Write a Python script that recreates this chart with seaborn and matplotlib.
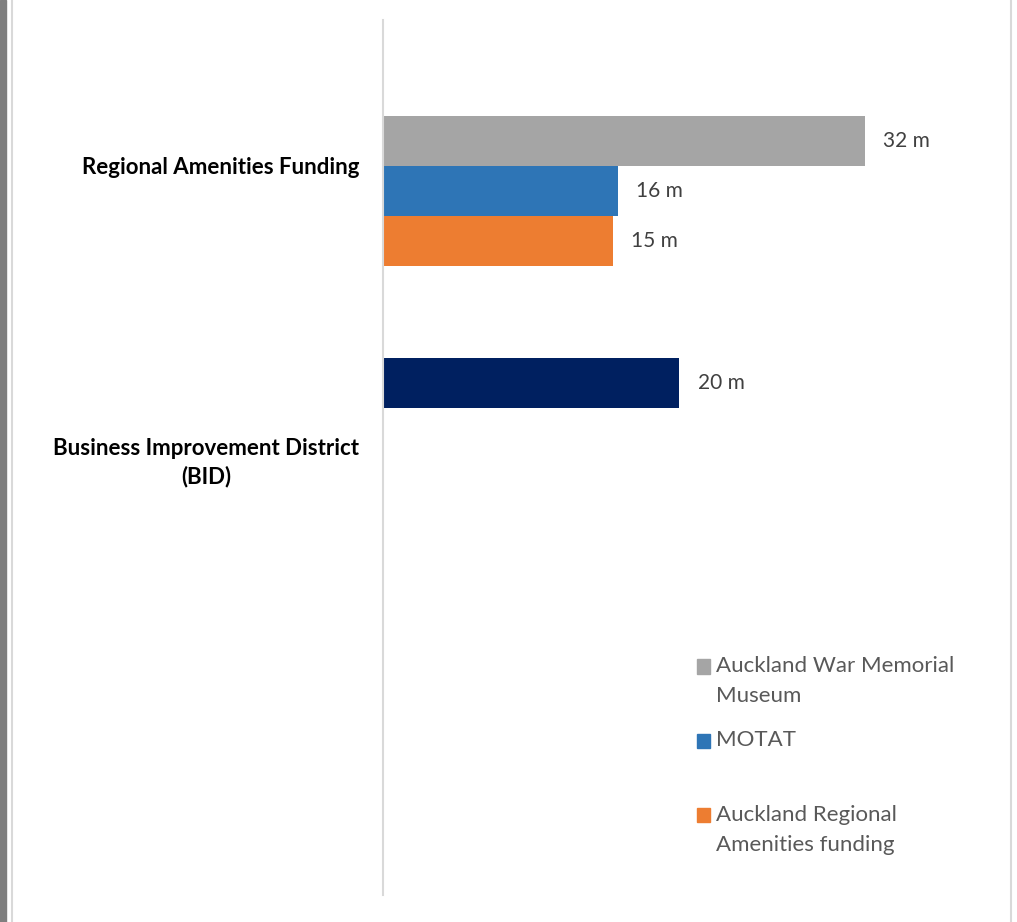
import pandas as pd
import matplotlib.pyplot as plt
import matplotlib.patches as mpatches
from matplotlib.legend_handler import HandlerPatch
import seaborn as sns

# data (millions)
categories = ["Regional Amenities Funding", "Business Improvement District\n(BID)"]
series = ["Business Improvement District", "Auckland War Memorial\nMuseum", "MOTAT",
          "Auckland Regional\nAmenities funding"]
cat_col = [categories[0], categories[0], categories[0], categories[1]]
series_col = [series[1], series[2], series[3], series[0]]
values = [32.0, 15.6, 15.3, 19.7]
colors = ["#002060", "#A5A5A5", "#2E75B6", "#ED7D31"]

df = pd.DataFrame({"category": cat_col, "series": series_col, "value": values})

sns.set_theme(style="white")
plt.rcParams['font.family'] = ['Lato', 'DejaVu Sans']

fig = plt.figure(figsize=(10.17, 9.22), dpi=100)
ax = fig.add_axes([383 / 1017, 1 - 895 / 922, 602 / 1017, 875 / 922])

sns.barplot(data=df, y="category", x="value", hue="series", hue_order=series,
            order=categories, palette=colors, orient="h", width=0.685,
            saturation=1, linewidth=0, ax=ax, legend=False)

for cont in ax.containers:
    ax.bar_label(cont, labels=[f"{v:.0f} m" for v in cont.datavalues],
                 padding=13, fontsize=15, color="#404040")

ax.set_xlim(0, 40)
ax.set_ylim(2.5, -0.5)
ax.set_xlabel("")
ax.set_ylabel("")
ax.set_xticks([])
for s in ["top", "right", "bottom"]:
    ax.spines[s].set_visible(False)
ax.spines["left"].set_color("#D9D9D9")
ax.spines["left"].set_linewidth(1.5)
ax.tick_params(axis="y", length=0, pad=17)
for lab in ax.get_yticklabels():
    lab.set_fontweight("bold")
    lab.set_fontsize(16)
    lab.set_color("black")
    lab.set_multialignment("center")
    lab.set_linespacing(1.35)


# legend: square aligned to the first line of each label
def top_square(legend, orig_handle, xdescent, ydescent, width, height, fontsize):
    return mpatches.Rectangle((-xdescent, -ydescent + 0.66 * fontsize), width, height)


leg_labels = [series[1], "MOTAT\n ", series[3]]
handles = [mpatches.Patch(color=c) for c in colors[1:]]
leg = ax.legend(handles, leg_labels, loc="upper left",
                bbox_to_anchor=(677 / 1017, 1 - 636 / 922),
                bbox_transform=fig.transFigure, frameon=False, fontsize=16,
                handlelength=0.6, handleheight=0.6, handletextpad=0.25, labelspacing=1.1,
                labelcolor="#595959",
                handler_map={mpatches.Patch: HandlerPatch(patch_func=top_square)})
for t in leg.get_texts():
    t.set_linespacing(1.62)

# page border strips
fig.patches.append(mpatches.Rectangle((0, 0), 6 / 1017, 1, transform=fig.transFigure,
                                      color="#7F7F7F", zorder=0))
fig.add_artist(plt.Line2D([12 / 1017, 12 / 1017], [0, 1], transform=fig.transFigure,
                          color="#D9D9D9", lw=1.5))
fig.add_artist(plt.Line2D([1011 / 1017, 1011 / 1017], [0, 1], transform=fig.transFigure,
                          color="#D9D9D9", lw=1.5))

plt.savefig("out.png", dpi=100)
plt.close()
